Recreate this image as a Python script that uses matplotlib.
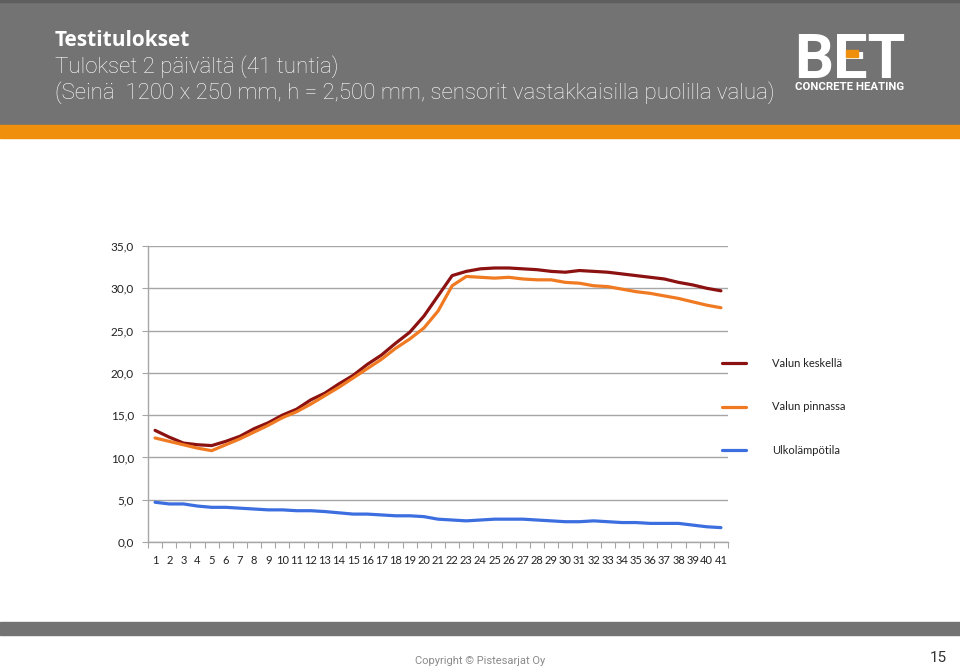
import matplotlib
matplotlib.use("Agg")
import matplotlib.pyplot as plt
from matplotlib.patches import Rectangle
from matplotlib.ticker import FuncFormatter, FixedLocator

tunnit = list(range(1, 42))

valun_keskella = [13.2, 12.4, 11.7, 11.5, 11.4, 11.9, 12.5, 13.4, 14.1, 15.0,
                  15.7, 16.8, 17.6, 18.7, 19.7, 21.0, 22.1, 23.5, 24.8, 26.7,
                  29.1, 31.5, 32.0, 32.3, 32.4, 32.4, 32.3, 32.2, 32.0, 31.9,
                  32.1, 32.0, 31.9, 31.7, 31.5, 31.3, 31.1, 30.7, 30.4, 30.0,
                  29.7]
valun_pinnassa = [12.3, 11.9, 11.5, 11.1, 10.8, 11.5, 12.2, 13.0, 13.8, 14.7,
                  15.4, 16.3, 17.3, 18.3, 19.4, 20.5, 21.6, 22.9, 24.0, 25.3,
                  27.3, 30.3, 31.4, 31.3, 31.2, 31.3, 31.1, 31.0, 31.0, 30.7,
                  30.6, 30.3, 30.2, 29.9, 29.6, 29.4, 29.1, 28.8, 28.4, 28.0,
                  27.7]
ulkolampotila = [4.7, 4.5, 4.5, 4.25, 4.1, 4.1, 4.0, 3.9, 3.8, 3.8,
                 3.7, 3.7, 3.6, 3.45, 3.3, 3.3, 3.2, 3.1, 3.1, 3.0,
                 2.7, 2.6, 2.5, 2.6, 2.7, 2.7, 2.7, 2.6, 2.5, 2.4,
                 2.4, 2.5, 2.4, 2.3, 2.3, 2.2, 2.2, 2.2, 2.0, 1.8,
                 1.7]

sarjat = [("Valun keskellä", valun_keskella, "#8c1212"),
          ("Valun pinnassa", valun_pinnassa, "#f07a22"),
          ("Ulkolämpötila", ulkolampotila, "#3c6ee0")]

W, H = 960, 669
fig = plt.figure(figsize=(9.6, 6.69), dpi=100)
fig.patch.set_facecolor("white")

# otsikkopalkki
fig.add_artist(Rectangle((0, 1 - 125 / H), 1, 125 / H, transform=fig.transFigure,
                         color="#737373", zorder=0))
fig.add_artist(Rectangle((0, 1 - 138 / H), 1, 13 / H, transform=fig.transFigure,
                         color="#ef8f0c", zorder=0))
fig.add_artist(Rectangle((0, 1 - 2 / H), 1, 2 / H, transform=fig.transFigure,
                         color="#5e5e5e", zorder=0))
# alapalkki
fig.add_artist(Rectangle((0, 1 - 635 / H), 1, 13 / H, transform=fig.transFigure,
                         color="#737373", zorder=0))

fig.text(55 / W, 1 - 40 / H, "Testitulokset", color="white", fontsize=15,
         fontweight="bold", family="Open Sans", va="center", ha="left")
fig.text(55 / W, 1 - 67 / H, "Tulokset 2 päivältä (41 tuntia)", color="white",
         fontsize=16, fontweight="light", family="Roboto", va="center", ha="left")
fig.text(55 / W, 1 - 93 / H,
         "(Seinä  1200 x 250 mm, h = 2,500 mm, sensorit vastakkaisilla puolilla valua)",
         color="white", fontsize=16, fontweight="light", family="Roboto",
         va="center", ha="left")

# logo
fig.text(850 / W, 1 - 78 / H, "BET", color="white", fontsize=44, fontweight="bold",
         family="Roboto", va="baseline", ha="center")
fig.add_artist(Rectangle((846 / W, 1 - 57 / H), 12 / W, 7 / H, transform=fig.transFigure,
                         color="#ef8f0c", zorder=5))
fig.text(850 / W, 1 - 90 / H, "CONCRETE HEATING", color="white", fontsize=8.2,
         fontweight="bold", family="Roboto", va="baseline", ha="center")

fig.text(480 / W, 1 - 661 / H, "Copyright © Pistesarjat Oy", color="#8a8a8a",
         fontsize=8, family="Roboto", va="center", ha="center")
fig.text(938 / W, 1 - 658 / H, "15", color="#333333", fontsize=11,
         family="Roboto", va="center", ha="center")

ax = fig.add_axes([148 / W, 1 - 542 / H, 580 / W, 296 / H])
for nimi, arvot, vari in sarjat:
    ax.plot(tunnit, arvot, color=vari, linewidth=2.3, label=nimi,
            solid_capstyle="round")

ax.set_xlim(0.5, 41.5)
ax.set_ylim(0, 35)
ax.set_yticks([0, 5, 10, 15, 20, 25, 30, 35])
ax.yaxis.set_major_formatter(FuncFormatter(lambda v, p: f"{v:.1f}".replace(".", ",")))
ax.grid(axis="y", color="#a6a6a6", linewidth=1)
ax.set_axisbelow(True)

ax.xaxis.set_major_locator(FixedLocator([t - 0.5 for t in tunnit] + [41.5]))
ax.xaxis.set_minor_locator(FixedLocator(tunnit))
ax.set_xticklabels([])
ax.set_xticklabels([str(t) for t in tunnit], minor=True)
ax.tick_params(axis="x", which="major", length=4, color="#a6a6a6", direction="out")
ax.tick_params(axis="x", which="minor", length=0, pad=9, labelsize=8, labelcolor="#222222")
ax.tick_params(axis="y", length=4, color="#a6a6a6", labelsize=8.5, labelcolor="#222222", pad=6)
for lab in ax.get_xticklabels(minor=True) + ax.get_yticklabels():
    lab.set_family("Lato")

for s in ["top", "right"]:
    ax.spines[s].set_visible(False)
for s in ["left", "bottom"]:
    ax.spines[s].set_color("#a6a6a6")
    ax.spines[s].set_linewidth(1)

leg = ax.legend(loc="center left", bbox_to_anchor=(722 / W, 1 - 407 / H),
                bbox_transform=fig.transFigure, frameon=False, borderpad=0,
                borderaxespad=0, handlelength=2.2, handletextpad=2.3,
                labelspacing=2.95, prop={"family": "Lato", "size": 8})
for t in leg.get_texts():
    t.set_color("#222222")

fig.savefig("out.png", dpi=100)
